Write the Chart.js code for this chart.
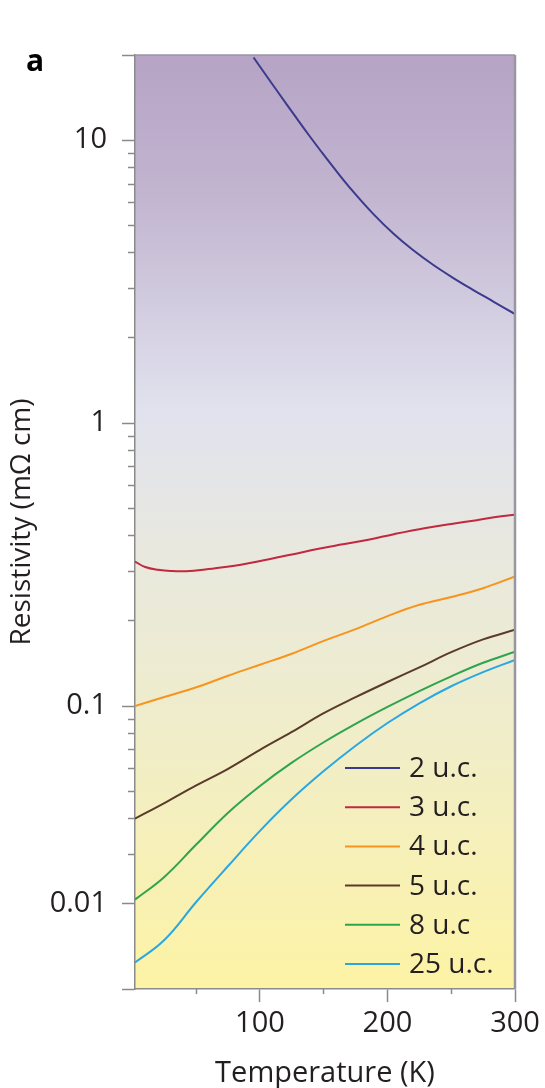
<!DOCTYPE html>
<html lang="en">
  <head>
    <meta charset="utf-8" />
    <title>Resistivity vs temperature</title>
    <script src="https://cdn.jsdelivr.net/npm/chart.js@4.4.0/dist/chart.umd.min.js"></script>
    <style>
      html,
      body {
        margin: 0;
        padding: 0;
        background: #fff;
      }
      #chartWrapper {
        position: relative;
        width: 545px;
        height: 1088px;
      }
    </style>
  </head>
  <body>
    <div id="chartWrapper">
      <canvas id="rhoChart"></canvas>
    </div>

    <script>
      // --------------- data ---------------------------------------------------
      const seriesLabels = ["2 u.c.", "3 u.c.", "4 u.c.", "5 u.c.", "8 u.c", "25 u.c."];

      const temps2uc = [95, 106, 116, 127, 138, 148, 161, 173, 189, 205, 220, 236, 252, 267, 283, 300];
      const rho2uc = [19.6, 16.66, 14.38, 12.26, 10.47, 9.12, 7.67, 6.59, 5.48, 4.66, 4.09, 3.62, 3.25, 2.96, 2.69, 2.43];

      const temps3uc = [2, 10, 20, 30, 45, 65, 85, 105, 125, 145, 165, 185, 205, 230, 250, 270, 285, 300];
      const rho3uc = [0.324, 0.31, 0.303, 0.3, 0.3, 0.307, 0.316, 0.329, 0.343, 0.359, 0.373, 0.387, 0.405, 0.426, 0.44, 0.454, 0.466, 0.474];

      // thicker films share one temperature grid
      const tempsThick = [2, 25, 50, 75, 100, 125, 150, 175, 200, 225, 250, 275, 300];
      const rho4uc = [0.1, 0.1076, 0.1165, 0.128, 0.14, 0.153, 0.17, 0.187, 0.208, 0.228, 0.243, 0.261, 0.287];
      const rho5uc = [0.04, 0.0454, 0.0524, 0.06, 0.07, 0.081, 0.0944, 0.1075, 0.1216, 0.137, 0.155, 0.172, 0.186];
      const rho8uc = [0.0207, 0.0249, 0.0324, 0.042, 0.0522, 0.0631, 0.0745, 0.0865, 0.0993, 0.113, 0.1274, 0.1422, 0.1556];
      const rho25uc = [0.0124, 0.0149, 0.0203, 0.0272, 0.0362, 0.0469, 0.0589, 0.0724, 0.0871, 0.1023, 0.1175, 0.1318, 0.1455];

      // axis ticks as printed on the figure (its "0.01" label sits one minor step up)
      const xMajorTicks = [100, 200, 300];
      const xMinorTicks = [50, 150, 250];
      const yMajorTicks = [20, 10, 1, 0.1, 0.02, 0.01];
      const yMajorLabels = ["", "10", "1", "0.1", "0.01", ""];
      const yMinorTicks = [
        9, 8, 7, 6, 5, 4, 3, 2,
        0.9, 0.8, 0.7, 0.6, 0.5, 0.4, 0.3, 0.2,
        0.09, 0.08, 0.07, 0.06, 0.05, 0.04, 0.03,
      ];

      // --------------- styles -------------------------------------------------
      const lineColors = ["#3b3a8c", "#c2283f", "#f7941d", "#5a3b2b", "#2ea44f", "#29a8e0"];
      const axisGrey = "#8a8a8a";
      const textColor = "#231f20";
      const FONT = "'Open Sans', sans-serif";

      Chart.defaults.font.family = FONT;
      Chart.defaults.color = textColor;

      function toPoints(xs, ys) {
        return xs.map((x, i) => ({ x, y: ys[i] }));
      }

      const seriesData = [
        toPoints(temps2uc, rho2uc),
        toPoints(temps3uc, rho3uc),
        toPoints(tempsThick, rho4uc),
        toPoints(tempsThick, rho5uc),
        toPoints(tempsThick, rho8uc),
        toPoints(tempsThick, rho25uc),
      ];

      // --------------- plugins ------------------------------------------------
      const backdrop = {
        id: "backdrop",
        beforeDraw(chart) {
          const { ctx, chartArea: a } = chart;
          const g = ctx.createLinearGradient(0, a.top, 0, a.bottom);
          g.addColorStop(0, "#b6a3c5");
          g.addColorStop(0.15, "#c2b5d0");
          g.addColorStop(0.38, "#e1e2ee");
          g.addColorStop(0.55, "#e9e9dd");
          g.addColorStop(0.72, "#f0edca");
          g.addColorStop(1, "#fdf3a5");
          ctx.save();
          ctx.fillStyle = g;
          ctx.fillRect(a.left, a.top, a.right - a.left, a.bottom - a.top);
          ctx.restore();
        },
      };

      const frameAndLegend = {
        id: "frameAndLegend",
        afterDraw(chart) {
          const { ctx, chartArea: a } = chart;
          ctx.save();
          // top + right frame
          ctx.strokeStyle = "#9a96a0";
          ctx.lineWidth = 1.5;
          ctx.beginPath();
          ctx.moveTo(a.left, a.top);
          ctx.lineTo(a.right, a.top);
          ctx.stroke();
          ctx.lineWidth = 2.5;
          ctx.beginPath();
          ctx.moveTo(a.right, a.top);
          ctx.lineTo(a.right, a.bottom);
          ctx.stroke();

          // legend, bottom right inside the plot
          const n = chart.data.datasets.length;
          ctx.font = "28px " + FONT;
          ctx.textBaseline = "middle";
          ctx.textAlign = "left";
          chart.data.datasets.forEach((ds, i) => {
            const y = a.bottom - 25 - (n - 1 - i) * 39.2;
            ctx.strokeStyle = ds.borderColor;
            ctx.lineWidth = 2;
            ctx.beginPath();
            ctx.moveTo(a.right - 170, y);
            ctx.lineTo(a.right - 115, y);
            ctx.stroke();
            ctx.fillStyle = textColor;
            ctx.fillText(ds.label, a.right - 106, y + 1);
          });

          // panel letter
          ctx.font = "bold 30px " + FONT;
          ctx.textBaseline = "alphabetic";
          ctx.fillStyle = "#000";
          ctx.fillText("a", 26, 71);
          ctx.restore();
        },
      };

      // --------------- chart --------------------------------------------------
      const ctx = document.getElementById("rhoChart").getContext("2d");

      new Chart(ctx, {
        type: "line",
        data: {
          datasets: seriesData.map((pts, i) => ({
            label: seriesLabels[i],
            data: pts,
            borderColor: lineColors[i],
            borderWidth: 2,
            pointRadius: 0,
            tension: 0.4,
            fill: false,
          })),
        },
        options: {
          responsive: true,
          maintainAspectRatio: false,
          animation: false,
          layout: { padding: { top: 55, right: 30, left: 0, bottom: 0 } },
          plugins: { legend: { display: false }, tooltip: { enabled: false } },
          scales: {
            x: {
              type: "linear",
              position: "bottom",
              weight: 1,
              min: 2,
              max: 300,
              afterBuildTicks: (s) => {
                s.ticks = xMajorTicks.map((v) => ({ value: v }));
              },
              afterFit: (s) => {
                s.height = 99;
              },
              grid: { drawOnChartArea: false, tickLength: 13, tickColor: axisGrey, tickWidth: 1.5 },
              border: { color: axisGrey, width: 1.5 },
              ticks: {
                font: { size: 29 },
                color: textColor,
                padding: 4,
                maxRotation: 0,
                autoSkip: false,
                callback: (v) => String(v),
              },
              title: {
                display: true,
                text: "Temperature (K)",
                font: { size: 29 },
                color: textColor,
                padding: { top: 0, bottom: -3 },
              },
            },
            xMinor: {
              type: "linear",
              position: "bottom",
              weight: 0,
              min: 2,
              max: 300,
              afterBuildTicks: (s) => {
                s.ticks = xMinorTicks.map((v) => ({ value: v }));
              },
              afterFit: (s) => {
                s.height = 0;
              },
              grid: { drawOnChartArea: false, tickLength: 5, tickColor: axisGrey, tickWidth: 1.5 },
              border: { display: false },
              ticks: { display: false },
            },
            y: {
              type: "logarithmic",
              position: "left",
              weight: 1,
              min: 0.01,
              max: 20,
              afterBuildTicks: (s) => {
                s.ticks = yMajorTicks.map((v) => ({ value: v }));
              },
              afterFit: (s) => {
                s.width = 135;
              },
              grid: { drawOnChartArea: false, tickLength: 13, tickColor: axisGrey, tickWidth: 1.5 },
              border: { color: axisGrey, width: 1.5 },
              ticks: {
                font: { size: 29 },
                color: textColor,
                padding: 15,
                autoSkip: false,
                callback: (v, i) => yMajorLabels[i],
              },
              title: {
                display: true,
                text: "Resistivity (mΩ cm)",
                font: { size: 28 },
                color: textColor,
                padding: { top: 5, bottom: 0 },
              },
            },
            yMinor: {
              type: "logarithmic",
              position: "left",
              weight: 0,
              min: 0.01,
              max: 20,
              afterBuildTicks: (s) => {
                s.ticks = yMinorTicks.map((v) => ({ value: v }));
              },
              afterFit: (s) => {
                s.width = 0;
              },
              grid: { drawOnChartArea: false, tickLength: 7, tickColor: axisGrey, tickWidth: 1.5 },
              border: { display: false },
              ticks: { display: false },
            },
          },
        },
        plugins: [backdrop, frameAndLegend],
      });
    </script>
  </body>
</html>
